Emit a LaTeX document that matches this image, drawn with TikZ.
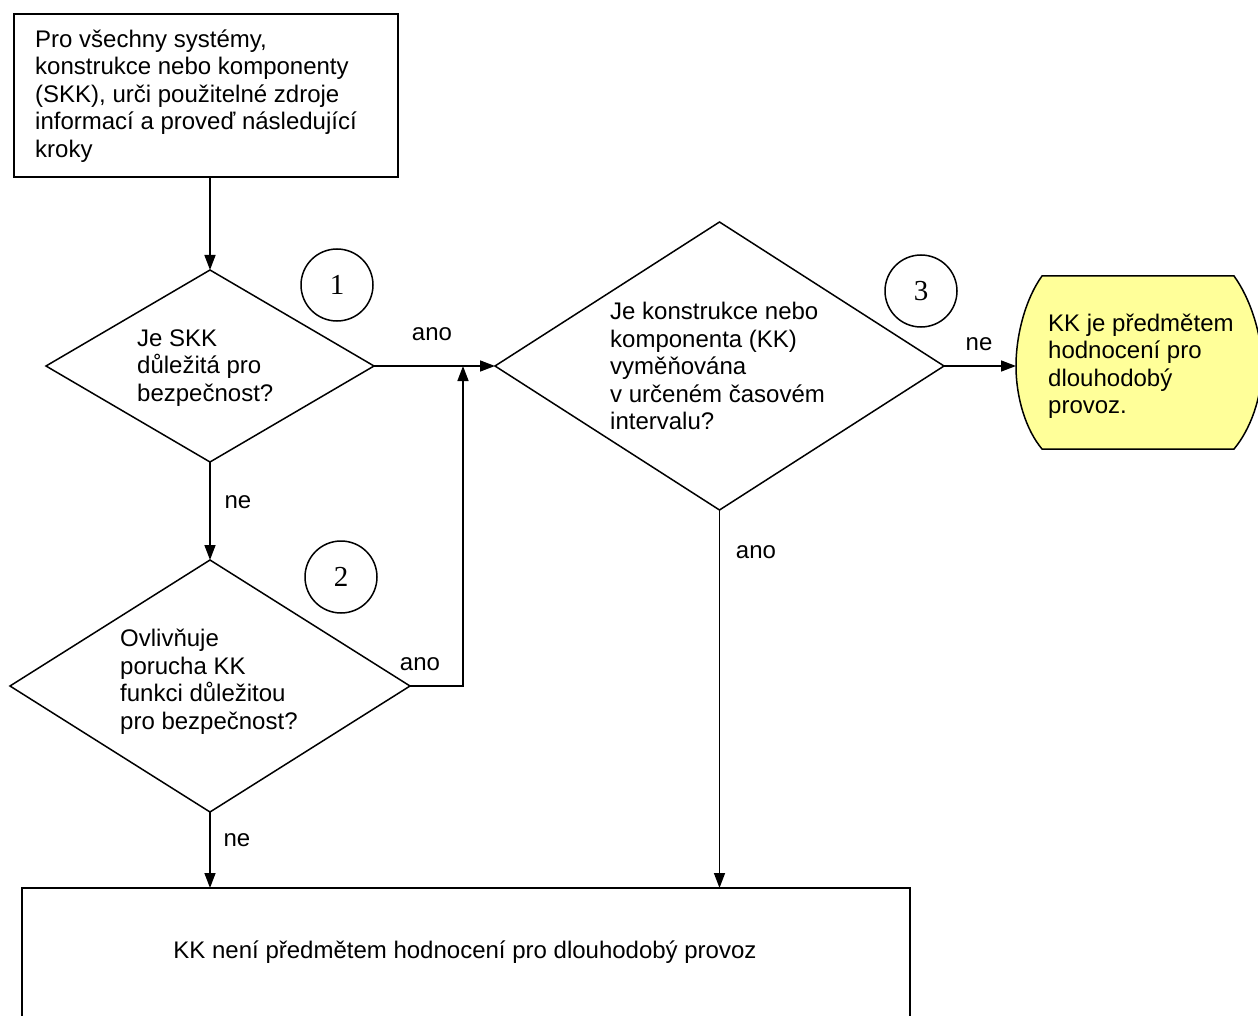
\documentclass[tikz,border=0pt]{standalone}
\usepackage{fontspec}
\setmainfont{Liberation Sans}
\newfontfamily\serifnum{Liberation Serif}
\usetikzlibrary{arrows.meta}
\begin{document}
\begin{tikzpicture}[x=1pt,y=-1pt,
  frame/.style={inner sep=0pt, outer sep=0pt, anchor=north west},
  line/.style={line width=1.5pt},
  txt/.style={font=\fontsize{24}{27.5}\selectfont, align=left, inner sep=0pt, anchor=west},
  lbl/.style={font=\fontsize{24}{27.5}\selectfont, inner sep=0pt},
  arr/.style={line width=1.5pt, -{Triangle[length=15pt,width=11pt]}},
  num/.style={draw, circle, minimum size=72pt, inner sep=0pt, line width=1.5pt, font=\serifnum\fontsize{29}{30}\selectfont}
]
\useasboundingbox (0,0) rectangle (1258,1016);
\clip (0,0) rectangle (1258,1016);
\fill[white] (0,0) rectangle (1258,1016);

% frames
\node[frame, minimum width=384pt, minimum height=163pt] (top) at (14,14) {};
\node[frame, minimum width=328pt, minimum height=192pt] (d1) at (46,270) {};
\node[frame, minimum width=400pt, minimum height=252pt] (d2) at (10,560) {};
\node[frame, minimum width=449pt, minimum height=288pt] (d3) at (495,222) {};
\node[frame, minimum width=246pt, minimum height=173pt] (yel) at (1016,276) {};
\node[frame, minimum width=888pt, minimum height=200pt] (bot) at (22,888) {};

% shapes
\draw[line] (top.north west) rectangle (top.south east);
\draw[line] (d1.west) -- (d1.north) -- (d1.east) -- (d1.south) -- cycle;
\draw[line] (d2.west) -- (d2.north) -- (d2.east) -- (d2.south) -- cycle;
\draw[line] (d3.west) -- (d3.north) -- (d3.east) -- (d3.south) -- cycle;
\draw[line] (bot.north west) rectangle (bot.south east);
\draw[line, fill={rgb,255:red,255;green,255;blue,153}]
  (1042,276) -- (1234,276)
  .. controls (1250,298) and (1262,334) .. (1262,366)
  .. controls (1262,398) and (1250,430) .. (1234,449)
  -- (1042,449)
  .. controls (1026,430) and (1016,398) .. (1016,366)
  .. controls (1016,334) and (1026,298) .. (1042,276) -- cycle;

% texts
\node[txt] (ttop) at (35,96) {Pro všechny systémy,\\konstrukce nebo komponenty\\(SKK), urči použitelné zdroje\\informací a proveď následující\\kroky};
\node[txt] (td1) at (137,368) {Je SKK\\důležitá pro\\bezpečnost?};
\node[txt] (td2) at (120,681.5) {Ovlivňuje\\porucha KK\\funkci důležitou\\pro bezpečnost?};
\node[txt] (td3) at (610,366) {Je konstrukce nebo\\komponenta (KK)\\vyměňována\\v určeném časovém\\intervalu?};
\node[txt] (tyel) at (1048,366.5) {KK je předmětem\\hodnocení pro\\dlouhodobý\\provoz.};
\node[lbl] (tbot) at (465,952) {KK není předmětem hodnocení pro dlouhodobý provoz};

% circles
\node[num] (c1) at (337,285) {1};
\node[num] (c2) at (341,577) {2};
\node[num] (c3) at (921,291) {3};

% connectors
\coordinate (j) at (463,366);
\draw[arr] (d1.north |- top.south) -- (d1.north);
\draw[arr] (d1.east) -- (d3.west);
\draw[arr] (d1.south) -- (d2.north);
\draw[arr] (d2.east) -| (j);
\draw[arr] (d2.south) -- (d2.south |- bot.north);
\draw[arr] (d3.south) -- (d3.south |- bot.north);
\draw[arr] (d3.east) -- (d3.east -| yel.west);

% labels
\node[lbl] (l1) at (432,334) {ano};
\node[lbl] (l2) at (238,502) {ne};
\node[lbl] (l3) at (420,664) {ano};
\node[lbl] (l4) at (237,840) {ne};
\node[lbl] (l5) at (756,552) {ano};
\node[lbl] (l6) at (979,344) {ne};
\end{tikzpicture}
\end{document}
